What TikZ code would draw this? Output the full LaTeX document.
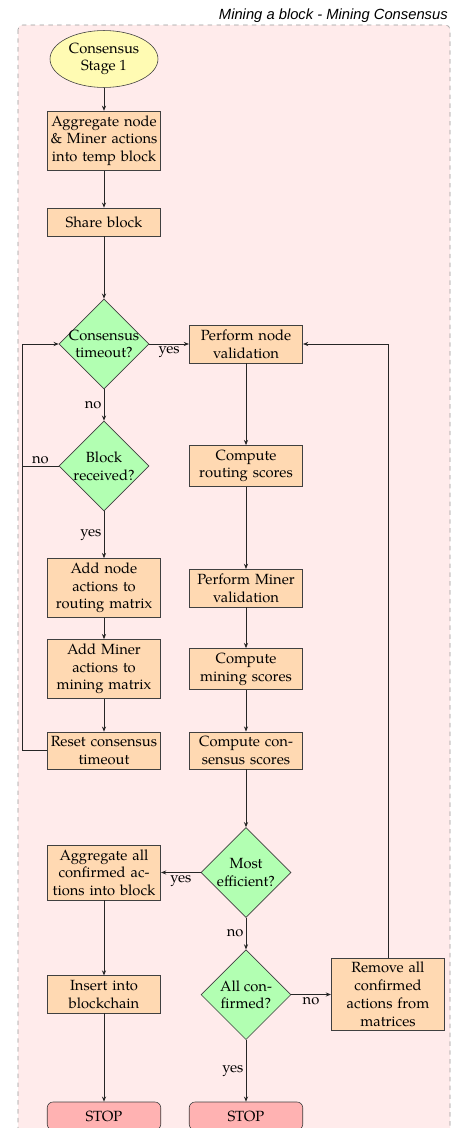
\documentclass[tikz,border=0pt]{standalone}
\usepackage{fontspec}
\setmainfont{texgyrepagella}[Extension=.otf, UprightFont=*-regular, BoldFont=*-bold, ItalicFont=*-italic, BoldItalicFont=*-bolditalic]
\newfontfamily\titlefont{Liberation Sans}
\usetikzlibrary{shapes.geometric, arrows.meta}
\tikzset{
  box/.style={rectangle, draw=black!75, fill=orange!30, text width=77pt, align=center, inner xsep=0pt, inner ysep=3pt, font=\normalsize},
  dec/.style={diamond, draw=black!75, fill=green!30, minimum width=61pt, minimum height=61pt, inner sep=-8pt, align=center},
  term/.style={ellipse, draw=black!75, fill=yellow!30, minimum width=73.2pt, minimum height=38.6pt, inner sep=0pt, align=center},
  stopbox/.style={rectangle, rounded corners=4pt, draw=black!75, fill=red!30, minimum width=77pt, minimum height=19pt},
  arr/.style={-{Stealth[length=3.5pt,width=2.8pt]}, draw=black!85, line width=0.5pt},
  conn/.style={draw=black!85, line width=0.5pt},
  lbl/.style={font=\normalsize, inner sep=1.5pt}
}
\begin{document}
\begin{tikzpicture}[x=0.678pt, y=-0.678pt]
\useasboundingbox (0,0) rectangle (462,1128);
\draw[dashed, draw=black!40, fill=red!8, rounded corners=3pt] (18,25) rectangle (450,1160);
\node[anchor=base east, font=\titlefont\itshape, inner sep=0pt] (title) at (448,20) {Mining a block - Mining Consensus};

\node[term] (start) at (104,59) {Consensus\\Stage 1};
\node[box] (agg) at (104,140.7) {Aggregate node\\\& Miner actions\\into temp block};
\node[box, minimum height=19pt] (share) at (104,222) {Share block};
\node[dec] (timeout) at (104,344) {Consensus\\timeout?};
\node[box] (pnv) at (246,344) {Perform node\\validation};
\node[dec] (blockrec) at (104,466) {Block\\received?};
\node[box] (crs) at (246,466) {Compute\\routing scores};
\node[box] (addnode) at (104,588) {Add node\\actions to\\routing matrix};
\node[box] (pmv) at (246,588) {Perform Miner\\validation};
\node[box] (addminer) at (104,669) {Add Miner\\actions to\\mining matrix};
\node[box] (cms) at (246,669) {Compute\\mining scores};
\node[box] (reset) at (104,750.5) {Reset consensus\\timeout};
\node[box] (ccs) at (246,750.5) {Compute con-\\sensus scores};
\node[dec] (mosteff) at (246,872.5) {Most\\efficient?};
\node[box] (aggall) at (104,872.5) {Aggregate all\\confirmed ac-\\tions into block};
\node[dec] (allconf) at (246,994.7) {All con-\\firmed?};
\node[box] (insert) at (104,994.3) {Insert into\\blockchain};
\node[box] (remove) at (388,994.3) {Remove all\\confirmed\\actions from\\matrices};
\node[stopbox] (stop1) at (104,1116) {STOP};
\node[stopbox] (stop2) at (246,1116) {STOP};

\coordinate (lb) at (22,466);
\coordinate (lt) at (22,344);

\draw[arr] (start) -- (agg);
\draw[arr] (agg) -- (share);
\draw[arr] (share) -- (timeout);
\draw[arr] (timeout) -- node[lbl, below] {yes} (pnv);
\draw[arr] (timeout) -- node[lbl, left] {no} (blockrec);
\draw[conn] (blockrec.west) -- node[lbl, above] {no} (lb);
\draw[arr] (reset.west) -| (lt) -- (timeout.west);
\draw[arr] (blockrec) -- node[lbl, left] {yes} (addnode);
\draw[arr] (addnode) -- (addminer);
\draw[arr] (addminer) -- (reset);
\draw[arr] (pnv) -- (crs);
\draw[arr] (crs) -- (pmv);
\draw[arr] (pmv) -- (cms);
\draw[arr] (cms) -- (ccs);
\draw[arr] (ccs) -- (mosteff);
\draw[arr] (mosteff) -- node[lbl, below] {yes} (aggall);
\draw[arr] (mosteff) -- node[lbl, left] {no} (allconf);
\draw[arr] (allconf) -- node[lbl, below] {no} (remove);
\draw[arr] (allconf) -- node[lbl, left] {yes} (stop2);
\draw[arr] (remove.north) |- (pnv.east);
\draw[arr] (aggall) -- (insert);
\draw[arr] (insert) -- (stop1);
\end{tikzpicture}
\end{document}
